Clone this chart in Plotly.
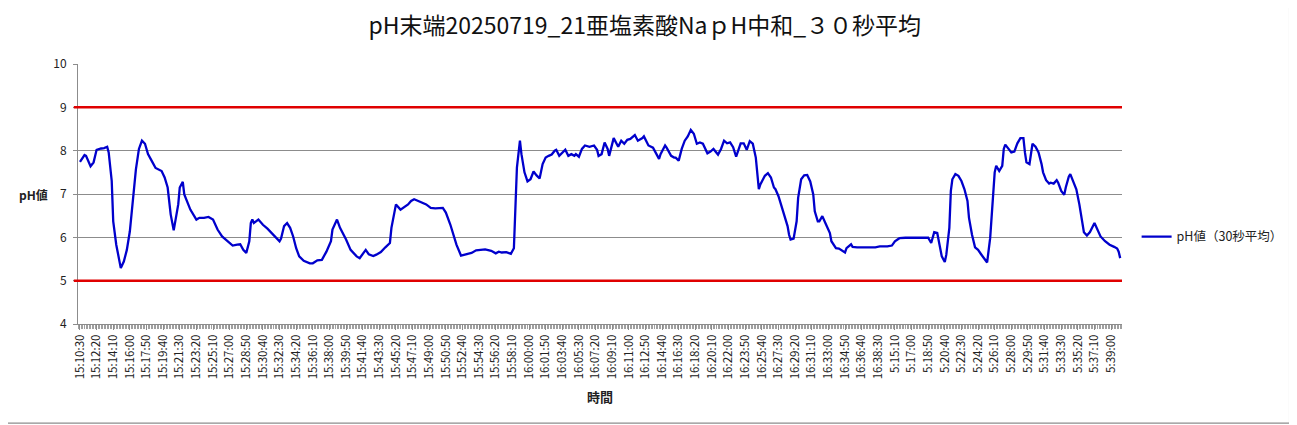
import plotly.graph_objects as go

# Category labels shown on the x axis (every 11th 10-second sample)
tick_labels = [
    "15:10:30", "15:12:20", "15:14:10", "15:16:00", "15:17:50", "15:19:40", "15:21:30",
    "15:23:20", "15:25:10", "15:27:00", "15:28:50", "15:30:40", "15:32:30", "15:34:20",
    "15:36:10", "15:38:00", "15:39:50", "15:41:40", "15:43:30", "15:45:20", "15:47:10",
    "15:49:00", "15:50:50", "15:52:40", "15:54:30", "15:56:20", "15:58:10", "16:00:00",
    "16:01:50", "16:03:40", "16:05:30", "16:07:20", "16:09:10", "16:11:00", "16:12:50",
    "16:14:40", "16:16:30", "16:18:20", "16:20:10", "16:22:00", "16:23:50", "16:25:40",
    "16:27:30", "16:29:20", "16:31:10", "16:33:00", "16:34:50", "16:36:40", "16:38:30",
    "5:15:10", "5:17:00", "5:18:50", "5:20:40", "5:22:30", "5:24:20", "5:26:10",
    "5:28:00", "5:29:50", "5:31:40", "5:33:30", "5:35:20", "5:37:10", "5:39:00",
]
label_step = 11          # samples between labelled categories
n_samples = 689          # total number of 10-second samples

# Sample index (position in the category sequence) and pH reading (30 s average)
sample_idx = [
    0, 3, 4, 7, 9, 11, 14, 16, 18, 19, 21, 22, 24, 26, 27, 29, 31, 33, 35, 37, 39, 41, 43, 45,
    48, 50, 54, 56, 58, 60, 62, 63, 65, 66, 68, 69, 71, 73, 77, 79, 82, 85, 88, 91, 94, 98,
    101, 104, 106, 108, 110, 112, 113,
    114, 115, 118, 121, 124, 128, 132, 133, 135, 137, 139, 141, 143, 145, 148, 152, 154, 157,
    160, 163, 166, 167, 170, 172, 174, 176, 179, 183, 185, 187, 189, 191, 194, 196, 199, 202,
    205, 206, 208, 209, 212, 215, 217, 219, 221, 223, 226, 228,
    229, 232, 235, 240, 242, 245, 247, 249, 252, 255, 259, 262, 265, 268, 272, 275, 277, 279,
    282, 285, 287, 288, 289, 291, 292, 294, 296, 298, 300, 302, 304, 306, 308, 310, 312, 314,
    315, 317, 319, 321, 323, 325, 327, 328, 330, 332, 334, 337, 340, 342, 343,
    345, 347, 349, 350, 352, 353, 356, 358, 360, 362, 364, 367, 369, 372, 373, 376, 379, 381,
    383, 384, 387, 388, 391, 393, 394, 396, 398, 400, 402, 404, 406, 408, 410, 412, 415, 417,
    419, 422, 424, 426, 428, 430, 432, 434, 435, 437, 439, 441, 443, 445, 447, 448, 449, 450,
    453, 455, 457, 459,
    460, 462, 464, 466, 468, 469, 470, 472, 474, 475, 477, 479, 481, 483, 485, 486, 488, 489,
    491, 493, 496, 497, 500, 502, 506, 507, 510, 511, 514, 520, 526, 529, 534, 537, 539, 542,
    546, 553, 561, 563, 565, 567, 568, 570, 572, 573, 575, 576,
    577, 579, 581, 583, 585, 587, 588, 590, 592, 594, 596, 598, 600, 602, 604, 605, 606, 608,
    610, 611, 612, 614, 616, 618, 620, 622, 624, 625, 626, 628, 629, 630, 632, 634, 636, 637,
    639, 641, 642, 644, 646, 647, 649, 651, 652, 654, 655, 657, 659, 661, 663, 664, 666, 668,
    671, 673, 675, 678, 681, 684, 686, 687, 688,
]
ph_values = [
    7.74, 7.90, 7.88, 7.64, 7.73, 8.02, 8.05, 8.06, 8.09, 7.96, 7.30, 6.37, 5.83, 5.44, 5.29,
    5.44, 5.71, 6.14, 6.84, 7.57, 8.04, 8.23, 8.16, 7.92, 7.73, 7.60, 7.53, 7.38, 7.15, 6.53,
    6.16, 6.37, 6.76, 7.15, 7.28, 6.99, 6.80, 6.64, 6.41, 6.45, 6.45, 6.47, 6.41, 6.18, 6.02,
    5.91, 5.81, 5.83, 5.84, 5.71, 5.64, 5.91, 6.33,
    6.41, 6.33, 6.41, 6.29, 6.20, 6.05, 5.91, 5.97, 6.26, 6.33, 6.22, 6.02, 5.75, 5.56, 5.46,
    5.40, 5.40, 5.47, 5.48, 5.67, 5.91, 6.18, 6.41, 6.22, 6.10, 5.95, 5.71, 5.56, 5.52, 5.61,
    5.71, 5.61, 5.57, 5.60, 5.66, 5.77, 5.87, 6.22, 6.57, 6.76, 6.64, 6.71, 6.76, 6.84, 6.88,
    6.85, 6.81, 6.78,
    6.76, 6.68, 6.67, 6.68, 6.57, 6.29, 6.06, 5.83, 5.58, 5.60, 5.64, 5.70, 5.71, 5.72, 5.69,
    5.63, 5.67, 5.65, 5.66, 5.62, 5.75, 6.60, 7.61, 8.23, 7.92, 7.50, 7.29, 7.34, 7.52, 7.43,
    7.36, 7.69, 7.84, 7.88, 7.91, 8.00, 8.02, 7.88, 7.94, 8.02, 7.88, 7.92, 7.88, 7.92, 7.86,
    8.04, 8.12, 8.09, 8.12, 8.02, 7.88,
    7.92, 8.19, 8.04, 7.88, 8.16, 8.29, 8.09, 8.23, 8.16, 8.25, 8.27, 8.36, 8.23, 8.29, 8.33,
    8.12, 8.07, 7.92, 7.81, 7.92, 8.12, 8.07, 7.88, 7.84, 7.84, 7.77, 8.04, 8.23, 8.33, 8.48,
    8.39, 8.16, 8.19, 8.16, 7.94, 7.98, 8.04, 7.91, 8.04, 8.23, 8.17, 8.19, 8.08, 7.86, 7.96,
    8.17, 8.17, 8.02, 8.22, 8.16, 7.84, 7.46, 7.11, 7.22, 7.42, 7.48, 7.38, 7.15,
    7.11, 6.95, 6.72, 6.45, 6.26, 6.06, 5.95, 5.97, 6.37, 6.91, 7.34, 7.43, 7.44, 7.29, 6.99,
    6.60, 6.37, 6.37, 6.49, 6.33, 6.10, 5.91, 5.75, 5.74, 5.65, 5.75, 5.84, 5.78, 5.77, 5.77,
    5.77, 5.79, 5.79, 5.81, 5.91, 5.98, 5.99, 5.99, 5.99, 5.87, 6.12, 6.10, 5.91, 5.56, 5.43,
    5.60, 6.22, 7.07,
    7.34, 7.46, 7.42, 7.30, 7.11, 6.84, 6.45, 6.06, 5.77, 5.71, 5.61, 5.52, 5.42, 5.98, 6.99,
    7.50, 7.65, 7.53, 7.65, 8.04, 8.14, 8.06, 7.96, 7.98, 8.17, 8.29, 8.29, 7.96, 7.73, 7.69,
    7.96, 8.16, 8.09, 7.96, 7.69, 7.50, 7.32, 7.24, 7.26, 7.24, 7.32, 7.26, 7.07, 6.98, 7.15,
    7.40, 7.46, 7.30, 7.11, 6.76, 6.33, 6.12, 6.04, 6.12, 6.33, 6.18, 6.02, 5.91, 5.83, 5.78,
    5.74, 5.67, 5.52,
]

upper_limit = 9
lower_limit = 5

title_text = "pH末端20250719_21亜塩素酸NaｐH中和_３０秒平均"
series_name = "pH値（30秒平均）"
y_title = "pH値"
x_title = "時間"

FONT = "Noto Sans CJK JP"

fig = go.Figure()
fig.add_trace(go.Scatter(
    x=sample_idx, y=ph_values, mode="lines", name=series_name,
    line=dict(color="#0000cc", width=2.3),
))

for lim in (upper_limit, lower_limit):
    fig.add_shape(type="line", xref="paper", yref="y", x0=-0.004, x1=1,
                  y0=lim, y1=lim, line=dict(color="#e00000", width=2.5), layer="above")

# chart-area border (right, bottom)
border = dict(color="#8c8c8c", width=1.2)
fig.add_shape(type="line", xref="paper", yref="paper", x0=1.1605, x1=1.1605, y0=-0.381, y1=1.25, line=border)
fig.add_shape(type="line", xref="paper", yref="paper", x0=-0.08, x1=1.1605, y0=-0.381, y1=-0.381, line=border)

fig.add_annotation(text=f"<b>{y_title}</b>", xref="paper", yref="paper", x=-0.043, y=0.5,
                   xanchor="center", yanchor="middle",
                   showarrow=False, font=dict(family=FONT, size=12, color="#222"))
fig.add_annotation(text=f"<b>{x_title}</b>", xref="paper", yref="paper", x=0.5, y=-0.277,
                   xanchor="center", yanchor="middle",
                   showarrow=False, font=dict(family=FONT, size=13, color="#222"))

fig.update_layout(
    width=1289, height=417,
    margin=dict(l=70, r=175, t=56, b=101, autoexpand=False),
    paper_bgcolor="white", plot_bgcolor="white",
    font=dict(family=FONT, color="#222"),
    title=dict(text=title_text, x=0.494, xanchor="center", y=0.957, yanchor="middle",
               font=dict(family=FONT, size=23, color="#111"), automargin=False),
    showlegend=True,
    legend=dict(x=1.014, xanchor="left", y=0.335, yanchor="middle",
                font=dict(family=FONT, size=12.5, color="#222"), bgcolor="rgba(0,0,0,0)",
                itemwidth=30),
    xaxis=dict(
        range=[-1.3, n_samples + 0.2],
        tickmode="array",
        tickvals=[i * label_step for i in range(len(tick_labels))],
        ticktext=tick_labels,
        tickangle=-90,
        tickfont=dict(family=FONT, size=11.5, color="#222"),
        showgrid=False, zeroline=False, automargin=False,
        showline=True, linecolor="#8c8c8c", linewidth=1,
        ticks="outside", ticklen=5, tickcolor="#8c8c8c",
        minor=dict(tickmode="linear", tick0=0, dtick=1, ticks="outside",
                   ticklen=4, tickcolor="#a0a0a0", showgrid=False),
    ),
    yaxis=dict(
        range=[4, 10], dtick=1, tick0=4, automargin=False,
        tickfont=dict(family=FONT, size=12, color="#222"),
        ticklabelstandoff=4,
        showgrid=True, gridcolor="#8c8c8c", gridwidth=1,
        zeroline=False, showline=True, linecolor="#8c8c8c", linewidth=1,
        ticks="outside", ticklen=4, tickcolor="#8c8c8c",
    ),
)

fig.write_html("out.html")
